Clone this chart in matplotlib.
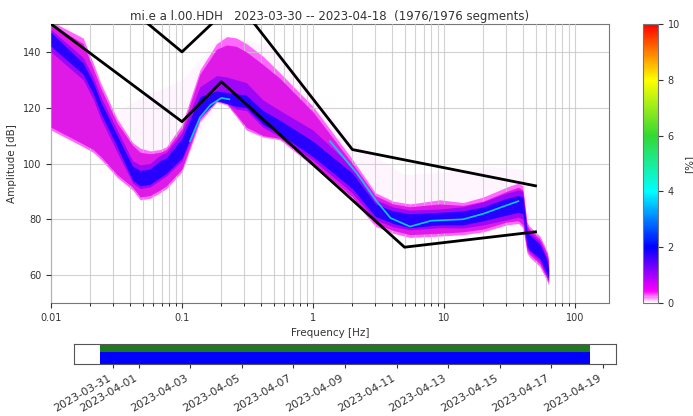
import numpy as np
import matplotlib
matplotlib.use("Agg")
import matplotlib.pyplot as plt
import matplotlib.dates as mdates
from matplotlib.colors import LinearSegmentedColormap, Normalize
from matplotlib.cm import ScalarMappable
from datetime import datetime, timedelta

title = "mi.e a l.00.HDH   2023-03-30 -- 2023-04-18  (1976/1976 segments)"

# frequency nodes of the density envelope [Hz]
freq = [0.01, 0.0176, 0.021, 0.024, 0.032, 0.042, 0.048, 0.057, 0.068, 0.076, 0.1,
        0.137, 0.184, 0.22, 0.26, 0.31, 0.415, 0.56, 1.0, 2.0, 3.0, 4.1, 5.5, 9.3,
        14, 20, 30, 37, 40, 43, 45, 54, 61, 63]
# outer (faint) envelope [dB]
env_lo = [112, 106, 104, 101.5, 95, 90.5, 87, 87.5, 89.5, 91, 97,
          115, 122, 121, 116.8, 112, 109.5, 108.5, 99, 87, 77.5, 75, 73.5, 74,
          74.5, 75.5, 78, 78.5, 77, 68, 66.5, 63, 58, 56.5]
env_hi = [151, 145, 136, 128.8, 116, 107.5, 105.5, 104.5, 105, 106, 114,
          133.5, 143, 145.5, 145, 143, 138.5, 132.5, 120.5, 101.5, 89.5, 86.5, 85.5, 87,
          86, 88, 91.5, 93, 92, 79, 77.5, 74, 69, 66]
# main (magenta) band [dB]
main_lo = [113, 107, 105, 102.5, 96, 91.5, 88, 88.5, 90.5, 92, 98,
           116, 122.5, 121.5, 117.5, 113, 110, 109, 100, 88, 78.5, 76, 74.5, 75,
           75.5, 76.5, 79, 79.5, 78, 69, 67.5, 64, 59, 57.5]
main_hi = [150, 143, 134, 127, 114.5, 106.5, 104, 103.5, 104, 105, 112.5,
           132, 141, 142.5, 142, 140, 135.5, 130.5, 118.5, 100, 88.5, 85.5, 84.5, 85.5,
           85, 86.5, 90, 91.5, 90.5, 78, 76.5, 73, 68, 65]
# denser (purple) band [dB]
mid_lo = [140, 130, 123, 116, 104, 93, 91, 91.6, 94, 95.5, 101,
          116.5, 122.5, 121.5, 119.5, 119, 113, 109.5, 101.3, 89.4, 79.8, 77.3, 76.2, 77,
          76.9, 78, 79.8, 80.8, 80, 70, 68.5, 65, 59.4, 58]
mid_hi = [148, 138, 131, 124, 112, 101, 99.5, 100, 103, 104, 111,
          127.5, 131.5, 131, 130, 129, 122.8, 119, 112, 98.8, 87, 84.4, 83.3, 83.7,
          84.5, 86.3, 89.4, 90.5, 90, 77, 75.5, 72, 66.6, 63]
# densest (blue) core [dB]
core_lo = [142, 132, 125, 118, 106, 94, 92, 92.5, 95, 96.5, 102,
           117, 122.5, 121.5, 120.5, 120, 114, 110.5, 102.5, 91, 81, 78.5, 77, 78,
           78, 79.5, 81.5, 82.5, 82, 71, 69, 66, 60.5, 59]
core_hi = [147, 136, 129, 122, 110, 99, 97.5, 98, 101, 102, 109,
           124, 126, 125.5, 125, 124.5, 119, 115.5, 108, 96.5, 85.5, 83, 82, 82.5,
           83, 84.5, 87.5, 88.5, 88, 76, 74.5, 71, 65.5, 62]
# sparse outlier traces
sparse_f = [0.03, 0.05, 0.08, 0.1, 0.2, 0.5, 1, 2, 5, 10, 20, 40, 45]
sparse_lo = [100, 95, 95, 100, 125, 115, 105, 90, 80, 80, 80, 80, 78]
sparse_hi = [118, 124, 128, 130, 146, 142, 125, 108, 96, 97, 99, 98, 88]
# most frequent (cyan) traces
mode1_f = [0.115, 0.137, 0.165, 0.2, 0.23]
mode1_db = [108, 116.5, 121, 123.5, 123]
mode2_f = [1.35, 2.15, 3.0, 3.9, 5.5, 8, 14, 20, 30, 37]
mode2_db = [108, 96.6, 87, 80.5, 77.4, 79.5, 80, 82, 85, 86.5]
# noise models
hnm_f = [0.01, 0.1, 0.26, 2.0, 50]
hnm_db = [178.8, 140, 158.4, 105, 92]
lnm_f = [0.01, 0.1, 0.2, 5.0, 50]
lnm_db = [150, 115, 129.3, 70, 75.5]
# coverage
cov_start = datetime(2023, 3, 30, 12, 0)
cov_end = datetime(2023, 4, 18, 12, 0)

cbar_ticks = [0, 2, 4, 6, 8, 10]

cmap = LinearSegmentedColormap.from_list("pqlx", [
    (0.0, (1, 1, 1)), (0.04, (1, 0, 1)), (0.2, (0, 0, 1)), (0.4, (0, 1, 1)),
    (0.6, (0.2, 0.85, 0.2)), (0.8, (1, 1, 0)), (1.0, (1, 0, 0))])
norm = Normalize(0, 10)

fig = plt.figure(figsize=(6.93, 4.16), dpi=100)
W, H = 693, 416
ax = fig.add_axes([51 / W, 1 - 303 / H, (609 - 51) / W, (303 - 24) / H])
cax = fig.add_axes([643 / W, 1 - 303 / H, 15 / W, 279 / H])
tax = fig.add_axes([74 / W, 1 - 364 / H, (616 - 74) / W, 20 / H])

ax.fill_between(sparse_f, sparse_lo, sparse_hi, color=cmap(norm(0.1)), alpha=0.18, lw=0, zorder=1)
ax.fill_between(freq, env_lo, env_hi, color=cmap(norm(0.25)), lw=0, zorder=2)
ax.fill_between(freq, main_lo, main_hi, color=(0.88, 0.1, 0.9), lw=0, zorder=3)
ax.fill_between(freq, mid_lo, mid_hi, color=cmap(norm(1.15)), lw=0, alpha=0.75, zorder=4)
ax.fill_between(freq, core_lo, core_hi, color=cmap(norm(1.9)), lw=0, alpha=0.85, zorder=4)
ax.plot(mode1_f, mode1_db, color=cmap(norm(3.6)), lw=1.2, zorder=5)
ax.plot(mode2_f, mode2_db, color=cmap(norm(3.6)), lw=1.2, zorder=5)

ax.plot(hnm_f, hnm_db, color="k", lw=2, zorder=7)
ax.plot(lnm_f, lnm_db, color="k", lw=2, zorder=7)

ax.set_xscale("log")
ax.set_xlim(0.01, 182)
ax.set_ylim(50, 150)
ax.set_yticks([60, 80, 100, 120, 140])
ax.xaxis.set_major_formatter(matplotlib.ticker.FuncFormatter(lambda v, p: f"{v:g}"))
ax.grid(True, which="major", color="#c4c4c4", lw=0.8, alpha=0.75)
ax.grid(True, which="minor", axis="x", color="#c4c4c4", lw=0.8, alpha=0.75)
ax.set_axisbelow(False)
for g in ax.get_xgridlines() + ax.get_ygridlines():
    g.set_zorder(6)
ax.tick_params(labelsize=7, colors="#333333")
ax.tick_params(which="minor", length=2)
for s in ax.spines.values():
    s.set_color("#777777")
ax.set_xlabel("Frequency [Hz]", fontsize=7.5, color="#333333")
ax.set_ylabel("Amplitude [dB]", fontsize=7.5, color="#333333")
ax.set_title(title, fontsize=8.5, color="#333333", pad=3)

cb = fig.colorbar(ScalarMappable(norm=norm, cmap=cmap), cax=cax, ticks=cbar_ticks)
cb.set_label("[%]", fontsize=7.5, color="#333333", labelpad=3)
cax.tick_params(labelsize=7, colors="#333333")
cb.outline.set_edgecolor("#777777")

tax.axvspan(cov_start, cov_end, 0, 0.6, color="blue", lw=0)
tax.axvspan(cov_start, cov_end, 0.6, 1.0, color="#1f7a1f", lw=0)
tax.set_xlim(cov_start - timedelta(days=1), cov_end + timedelta(days=1))
tax.set_yticks([])
tax.xaxis.set_major_locator(mdates.DayLocator(bymonthday=range(1, 32, 2)))
tax.xaxis.set_major_formatter(mdates.DateFormatter("%Y-%m-%d"))
tax.tick_params(labelsize=8, colors="#333333", length=3)
for lbl in tax.get_xticklabels():
    lbl.set_rotation(30)
    lbl.set_ha("right")
for s in tax.spines.values():
    s.set_color("#555555")

fig.savefig("out.png", dpi=100)
